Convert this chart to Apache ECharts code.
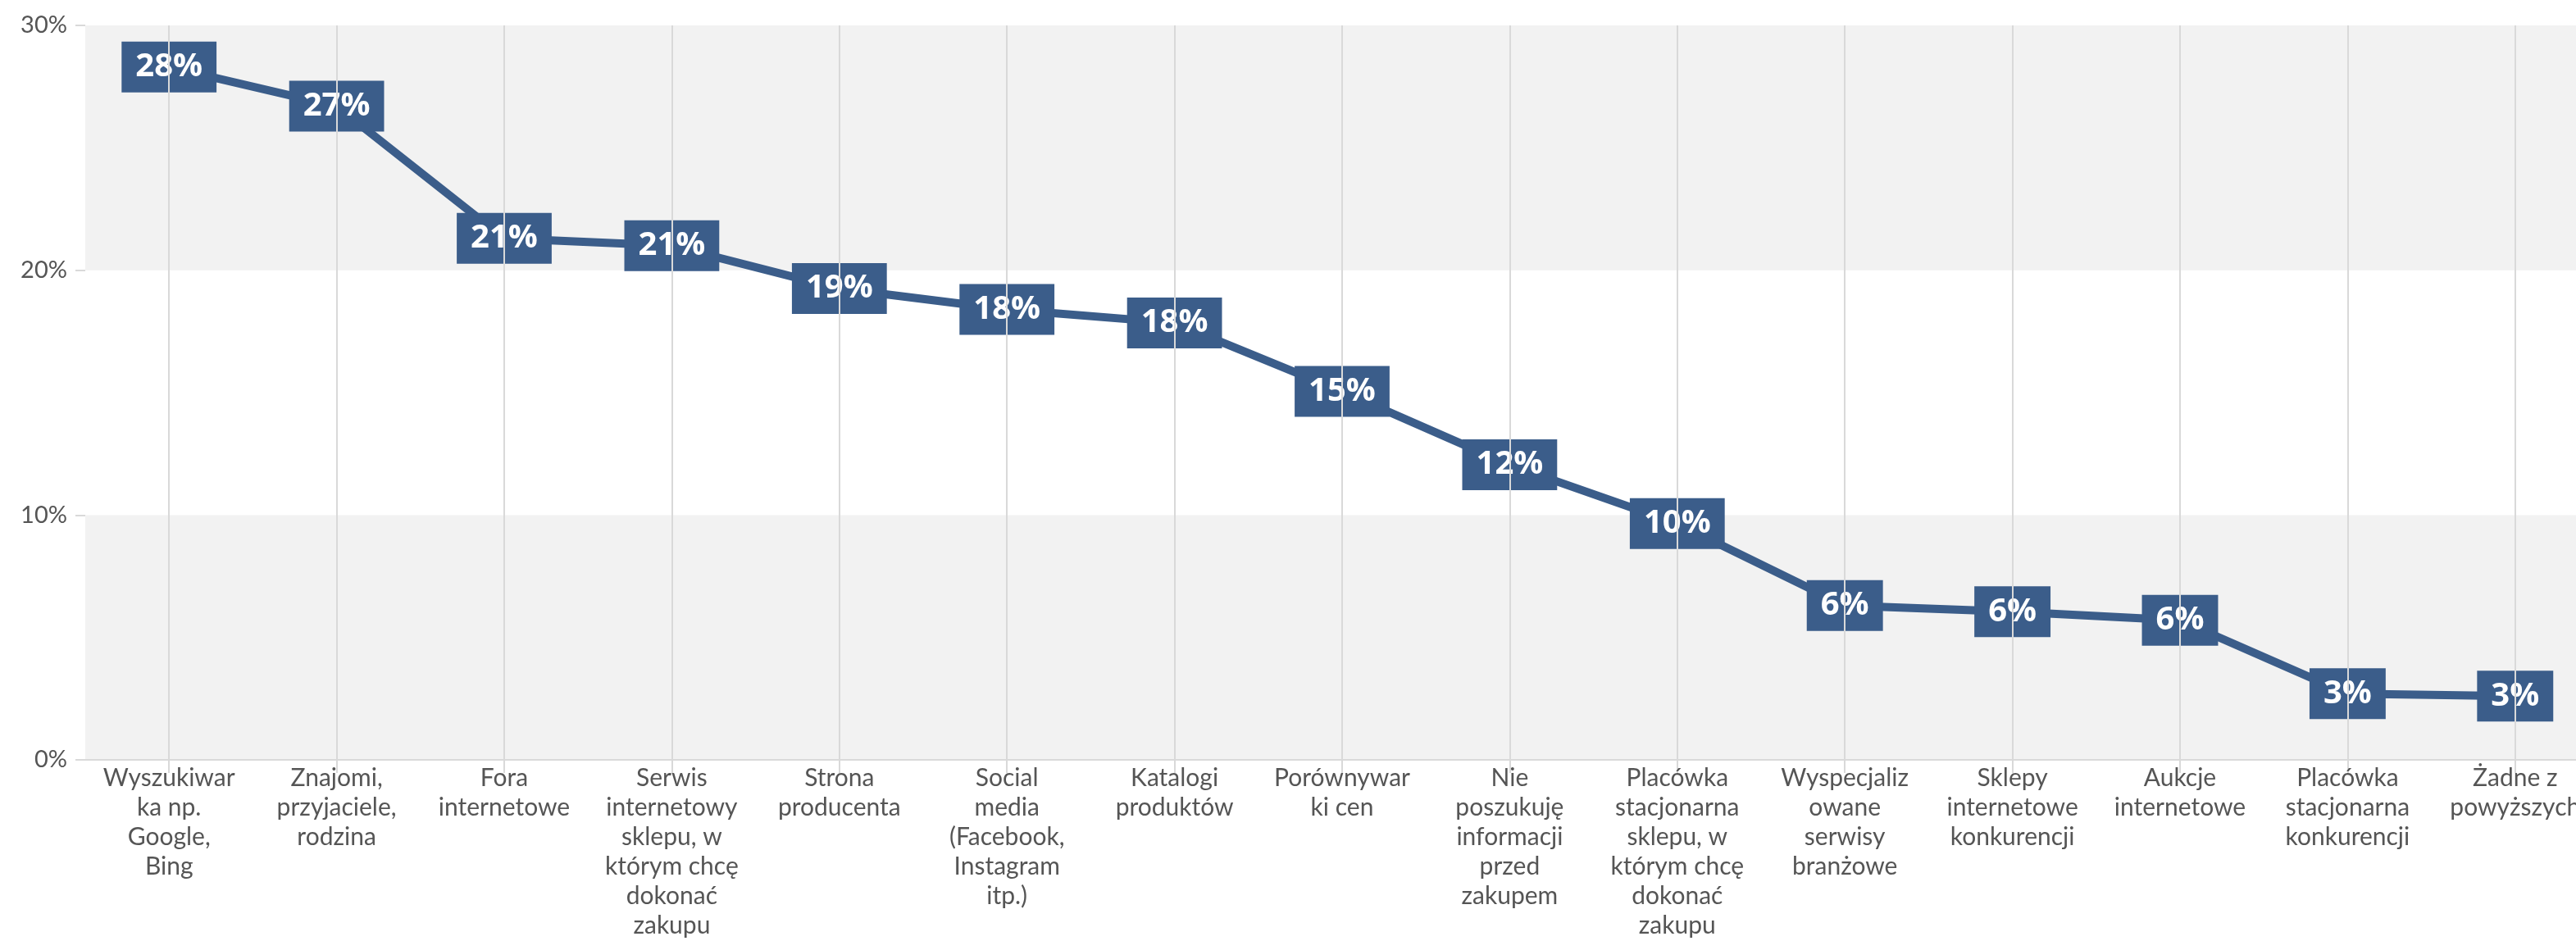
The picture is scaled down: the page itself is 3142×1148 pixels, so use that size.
<!DOCTYPE html>
<html>
<head>
<meta charset="utf-8">
<script src="https://cdn.jsdelivr.net/npm/echarts@6/dist/echarts.min.js"></script>
<style>
  html, body { margin: 0; padding: 0; background: #ffffff; overflow: hidden; }
  /* the plot runs slightly past the right edge of the window */
  #chart { width: 3170px; height: 1148px; }
</style>
</head>
<body>
<div id="chart"></div>
<script>
// Źródła informacji przed zakupem (udział odpowiedzi, %)
const categories = [
  'Wyszukiwar\nka np.\nGoogle,\nBing',
  'Znajomi,\nprzyjaciele,\nrodzina',
  'Fora\ninternetowe',
  'Serwis\ninternetowy\nsklepu, w\nktórym chcę\ndokonać\nzakupu',
  'Strona\nproducenta',
  'Social\nmedia\n(Facebook,\nInstagram\nitp.)',
  'Katalogi\nproduktów',
  'Porównywar\nki cen',
  'Nie\nposzukuję\ninformacji\nprzed\nzakupem',
  'Placówka\nstacjonarna\nsklepu, w\nktórym chcę\ndokonać\nzakupu',
  'Wyspecjaliz\nowane\nserwisy\nbranżowe',
  'Sklepy\ninternetowe\nkonkurencji',
  'Aukcje\ninternetowe',
  'Placówka\nstacjonarna\nkonkurencji',
  'Żadne z\npowyższych'
];

const shares = [28.3, 26.7, 21.3, 21.0, 19.25, 18.4, 17.85, 15.05, 12.05, 9.65, 6.3, 6.05, 5.7, 2.7, 2.6];

const yTicks = [0, 10, 20, 30];

const blue = '#3b5d8a';
const gridGrey = '#d9d9d9';
const textGrey = '#555555';

const chart = echarts.init(document.getElementById('chart'), null, { renderer: 'canvas' });

chart.setOption({
  animation: false,
  backgroundColor: '#ffffff',
  grid: { left: 104, right: 0, top: 31, bottom: 221, containLabel: false },
  xAxis: {
    type: 'category',
    data: categories,
    boundaryGap: true,
    axisLine: { show: true, lineStyle: { color: gridGrey, width: 2 } },
    axisTick: { show: true, alignWithLabel: true, length: 16, lineStyle: { color: gridGrey, width: 2 } },
    splitLine: { show: false },
    axisLabel: {
      interval: 0,
      margin: 4,
      color: textGrey,
      fontFamily: 'Lato',
      fontSize: 30,
      lineHeight: 36,
      align: 'center'
    }
  },
  yAxis: {
    type: 'value',
    min: yTicks[0],
    max: yTicks[yTicks.length - 1],
    interval: 10,
    axisLine: { show: false },
    axisTick: { show: true, length: 12, lineStyle: { color: gridGrey, width: 2 } },
    splitLine: { show: false },
    splitArea: { show: true, areaStyle: { color: ['#f2f2f2', '#ffffff'] } },
    axisLabel: {
      margin: 22,
      color: textGrey,
      fontFamily: 'Lato',
      fontSize: 29,
      formatter: v => v + '%'
    }
  },
  series: [
    {
      // pionowe linie siatki w środkach kategorii
      type: 'line',
      data: [],
      z: 1,
      silent: true,
      markLine: {
        silent: true,
        symbol: 'none',
        label: { show: false },
        lineStyle: { color: gridGrey, width: 2, type: 'solid' },
        data: categories.map((c, i) => ({ xAxis: i }))
      }
    },
    {
      type: 'line',
      data: shares,
      z: 3,
      symbol: 'circle',
      symbolSize: 1,
      lineStyle: { color: blue, width: 10 },
      itemStyle: { color: blue },
      label: {
        show: true,
        position: 'inside',
        formatter: p => Math.round(p.value) + '%',
        color: '#ffffff',
        fontFamily: 'Open Sans',
        fontWeight: 'bold',
        fontSize: 40,
        backgroundColor: blue,
        padding: [9, 17, 9, 17],
        lineHeight: 44
      }
    }
  ]
});
</script>
</body>
</html>
